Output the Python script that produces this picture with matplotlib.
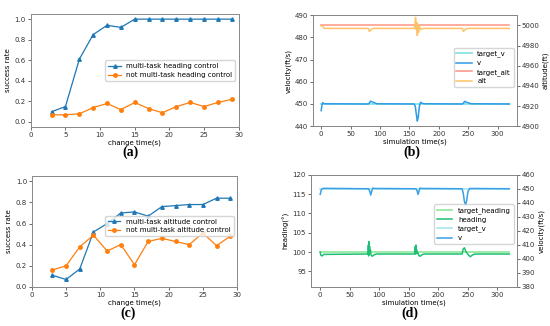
import numpy as np
import matplotlib
matplotlib.use('Agg')
import matplotlib.pyplot as plt

# ---- data (a) / (c): success rate vs change time
change_time = [3, 5, 7, 9, 11, 13, 15, 17, 19, 21, 23, 25, 27, 29]
multi_heading = [0.10, 0.15, 0.61, 0.85, 0.94, 0.92, 1.0, 1.0, 1.0, 1.0, 1.0, 1.0, 1.0, 1.0]
single_heading = [0.07, 0.07, 0.08, 0.14, 0.18, 0.12, 0.19, 0.13, 0.09, 0.15, 0.19, 0.15, 0.19, 0.22]
multi_alt = [0.11, 0.07, 0.17, 0.52, 0.60, 0.70, 0.71, 0.67, 0.76, 0.77, 0.78, 0.78, 0.84, 0.84]
single_alt = [0.16, 0.20, 0.38, 0.49, 0.34, 0.40, 0.21, 0.43, 0.46, 0.43, 0.40, 0.51, 0.39, 0.48]

# ---- data (b): velocity / altitude time response (vertices)
b_target_t = [0, 320]
b_target_v = [450, 450]
b_target_alt = [5000, 5000]
b_v_t = [0, 1, 2.5, 5, 80, 82, 84, 88, 95, 158, 160, 162, 163.5, 165, 167, 169, 171, 175,
         240, 242, 244, 248, 255, 320]
b_v = [447, 449, 450.6, 450.1, 450, 450.4, 451.3, 450.8, 450.1, 450, 449, 445, 442.3, 444,
       449, 450.8, 450.4, 450.1, 450, 450.4, 451.2, 450.7, 450.1, 450]
b_alt_t = [0, 3, 5, 80, 82, 84, 88, 158, 159.5, 160.5, 161.5, 162.5, 163.5, 164.5, 165.5,
           167, 170, 175, 240, 242, 244, 248, 320]
b_alt = [4999.5, 4999, 4997, 4997, 4994, 4995.5, 4997, 4997, 5000, 5008, 4996, 5003, 4990,
         5001, 4993, 4999, 4996, 4997, 4997, 4994, 4995.5, 4997, 4997]

# ---- data (d): heading / velocity time response
d_target_t = [0, 320]
d_target_heading = [100, 100]
d_target_v = [450, 450]
d_hd_t = [0, 1, 3, 6, 80, 81, 81.5, 82, 82.5, 83, 83.5, 84, 85, 86, 88, 91, 95,
          160, 161, 161.5, 162, 162.5, 163, 164, 165, 167, 169, 172, 176,
          240, 242, 244, 246, 248, 251, 254, 258, 262, 320]
d_heading = [100, 99.2, 99, 99.4, 99.5, 100, 101.8, 99, 102.7, 99.5, 101.5, 99.8, 100.5, 99.3,
             98.9, 99.3, 99.5, 99.5, 101.5, 99.5, 101.8, 99.8, 100.7, 99.6, 99.9, 99.1, 98.9,
             99.3, 99.5, 99.5, 100.8, 101.1, 100.3, 99.8, 99.2, 98.8, 99.3, 99.5, 99.5]
d_v_t = [0, 2, 5, 82, 84, 85.5, 87, 89, 92, 162, 164, 165.5, 167, 169, 172,
         240, 242, 244, 246, 248, 250, 253, 320]
d_v = [446, 449.5, 450.3, 450, 448, 445.5, 448, 450.5, 450.2, 450, 448.5, 446, 448, 450.5, 450.2,
       450, 447, 441, 437.8, 442, 448, 450.2, 450]

plt.rcParams['font.family'] = ['DejaVu Sans']
FS = 5
SP = '#888888'

fig = plt.figure(figsize=(5.5, 3.26), dpi=100)


def style(ax):
    for s in ax.spines.values():
        s.set_color(SP)
        s.set_linewidth(0.7)
    ax.tick_params(labelsize=FS, colors='#333333', length=2, width=0.5, pad=1.5)


def rate_panel(rect, multi, single, lab1, lab2, ylim, leg_anchor):
    ax = fig.add_axes(rect)
    ax.plot(change_time, multi, '-^', color='#1f77b4', lw=0.9, ms=2.5, label=lab1)
    ax.plot(change_time, single, '-o', color='#ff7f0e', lw=0.9, ms=2.5, label=lab2)
    ax.set_xlim(0, 30)
    ax.set_ylim(*ylim)
    ax.set_xticks(range(0, 31, 5))
    ax.set_yticks([0.0, 0.2, 0.4, 0.6, 0.8, 1.0])
    ax.set_xlabel('change time(s)', fontsize=FS, labelpad=1)
    ax.set_ylabel('success rate', fontsize=FS, labelpad=3)
    style(ax)
    ax.legend(fontsize=FS, loc='center right', bbox_to_anchor=leg_anchor,
              handlelength=1.8, borderpad=0.4, labelspacing=0.4, framealpha=0.8)
    return ax


rate_panel([0.056, 0.610, 0.378, 0.347], multi_heading, single_heading,
           'multi-task heading control', 'not multi-task heading control',
           (-0.05, 1.05), (1.0, 0.50))
rate_panel([0.058, 0.120, 0.373, 0.340], multi_alt, single_alt,
           'multi-task altitude control', 'not multi-task altitude control',
           (0.0, 1.05), (1.0, 0.55))

# ---- (b)
axb = fig.add_axes([0.569, 0.613, 0.371, 0.340])
axb2 = axb.twinx()
l1, = axb.plot(b_target_t, b_target_v, color='#7fe0dc', lw=1.2, label='target_v')
l2, = axb.plot(b_v_t, b_v, color='#2f9be8', lw=1.1, label='v')
l3, = axb2.plot(b_target_t, b_target_alt, color='#ff9d8c', lw=1.2, label='target_alt')
l4, = axb2.plot(b_alt_t, b_alt, color='#ffc266', lw=1.1, label='alt')
axb.set_xlim(-14, 333)
axb.set_ylim(440, 490)
axb2.set_ylim(4900, 5010)
axb.set_xticks(range(0, 301, 50))
axb.set_yticks(range(440, 491, 10))
axb2.set_yticks(range(4900, 5001, 20))
axb.set_xlabel('simulation time(s)', fontsize=FS, labelpad=1)
axb.set_ylabel('velocity(ft/s)', fontsize=FS, labelpad=2)
axb2.set_ylabel('altitude(ft)', fontsize=FS, labelpad=2)
style(axb)
style(axb2)
axb2.legend([l1, l2, l3, l4], [l.get_label() for l in (l1, l2, l3, l4)], fontsize=FS,
            loc='center right', bbox_to_anchor=(1.0, 0.53), handlelength=2.2,
            borderpad=0.4, labelspacing=0.4, framealpha=0.8)

# ---- (d)
axd = fig.add_axes([0.565, 0.120, 0.375, 0.344])
axd2 = axd.twinx()
m1, = axd.plot(d_target_t, d_target_heading, color='#8fe89a', lw=1.2, label='target_heading')
m2, = axd.plot(d_hd_t, d_heading, color='#1fbf73', lw=1.1, label='heading')
m3, = axd2.plot(d_target_t, d_target_v, color='#a6e6ee', lw=1.2, label='target_v')
m4, = axd2.plot(d_v_t, d_v, color='#3a9fe6', lw=1.1, label='v')
axd.set_xlim(-16, 333)
axd.set_ylim(91, 120)
axd2.set_ylim(380, 460)
axd.set_xticks(range(0, 301, 50))
axd.set_yticks(range(95, 121, 5))
axd2.set_yticks(range(380, 461, 10))
axd.set_xlabel('simulation time(s)', fontsize=FS, labelpad=1)
axd.set_ylabel('heading(°)', fontsize=FS, labelpad=2)
axd2.set_ylabel('velocity(ft/s)', fontsize=FS, labelpad=2)
style(axd)
style(axd2)
axd2.legend([m1, m2, m3, m4], [l.get_label() for l in (m1, m2, m3, m4)], fontsize=FS,
            loc='center right', bbox_to_anchor=(1.0, 0.56), handlelength=2.2,
            borderpad=0.4, labelspacing=0.4, framealpha=0.8)

# ---- captions
for x, y, t in [(0.237, 0.533, '(a)'), (0.749, 0.533, '(b)'),
                (0.233, 0.040, '(c)'), (0.745, 0.040, '(d)')]:
    fig.text(x, y, t, ha='center', va='center', fontsize=10,
             family='Liberation Serif', fontweight='bold')

fig.savefig('out.png', dpi=100)
